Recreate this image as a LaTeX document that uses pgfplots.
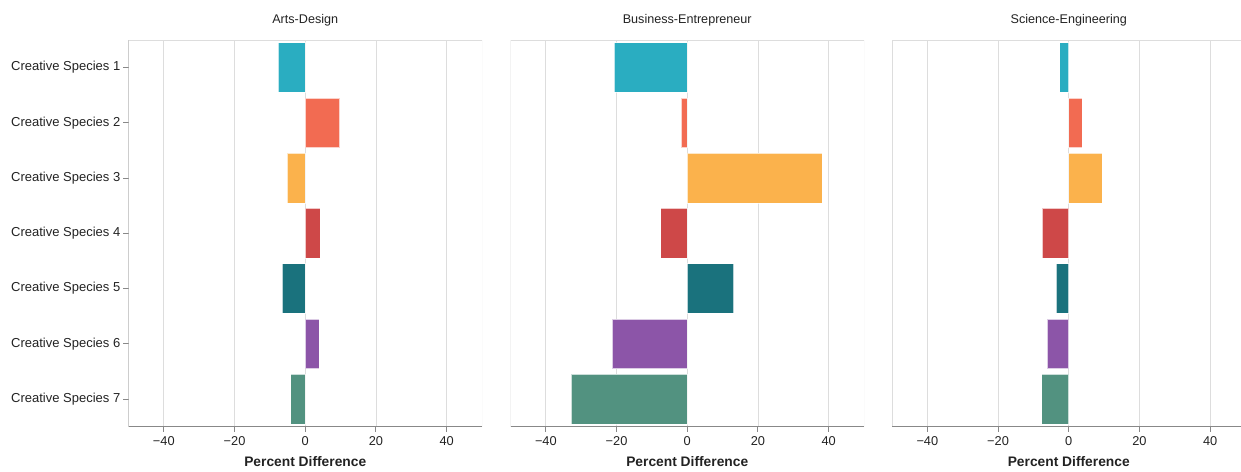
\documentclass[border=0pt]{standalone}
\usepackage{pgfplots}
\pgfplotsset{compat=1.18}
\usepackage{fontspec}
\setmainfont{Liberation Sans}
\definecolor{c1}{HTML}{2AADC1}
\definecolor{c2}{HTML}{F26B52}
\definecolor{c3}{HTML}{FBB24C}
\definecolor{c4}{HTML}{CE4848}
\definecolor{c5}{HTML}{1A727D}
\definecolor{c6}{HTML}{8C55A8}
\definecolor{c7}{HTML}{529280}
\definecolor{gridc}{HTML}{DDDDDD}
\definecolor{axc}{HTML}{888888}
\definecolor{txt}{HTML}{222222}
\pgfplotsset{
 panel/.style={
  scale only axis, width=353.5bp, height=386.7bp, anchor=south west,
  xmin=-50, xmax=50, ymin=0.5, ymax=7.5, y dir=reverse,
  xtick={-40,-20,0,20,40}, xticklabels={−40,−20,0,20,40},
  ytick={1,2,3,4,5,6,7},
  axis line style={draw=none},
  xmajorgrids, grid style={draw=gridc, line width=0.9bp},
  tick align=outside, major tick length=5bp, tick style={draw=axc, line width=1bp},
  xtick pos=bottom, ytick pos=left,
  tick label style={font=\fontsize{12.8bp}{14bp}\selectfont, text=txt},
  xticklabel style={anchor=north, inner sep=0pt, yshift=-4.5bp},
  yticklabel style={anchor=east, inner sep=0pt, xshift=-3bp, font=\fontsize{13bp}{14bp}\selectfont},
  title style={at={(0.5,1)}, anchor=base, yshift=10.6bp, font=\fontsize{12.6bp}{14bp}\selectfont, text=txt},
  xlabel={Percent Difference},
  xlabel style={at={(axis description cs:0.5,0)}, anchor=center, yshift=-34.5bp, font=\fontsize{13.8bp}{15bp}\selectfont\bfseries, text=txt},
  xbar, bar shift=0pt, bar width=0.9,
  every axis plot/.append style={draw=white, draw opacity=0.7, line width=0.8bp},
 },
}
\begin{document}
\begin{tikzpicture}
% Panel 1
\begin{axis}[panel, at={(128.5bp,45.3bp)}, title={Arts-Design},
  yticklabels={Creative Species 1,Creative Species 2,Creative Species 3,Creative Species 4,Creative Species 5,Creative Species 6,Creative Species 7}]
\addplot[fill=c1] coordinates {(-7.6,1)};
\addplot[fill=c2] coordinates {(9.7,2)};
\addplot[fill=c3] coordinates {(-5.1,3)};
\addplot[fill=c4] coordinates {(4.2,4)};
\addplot[fill=c5] coordinates {(-6.5,5)};
\addplot[fill=c6] coordinates {(3.9,6)};
\addplot[fill=c7] coordinates {(-4.1,7)};
\draw[gridc, line width=0.9bp] (axis description cs:0,0) rectangle (axis description cs:1,1);
\draw[axc, line width=1.2bp] (axis description cs:0,1) -- (axis description cs:0,0) -- (axis description cs:1,0);
\end{axis}
% Panel 2
\begin{axis}[panel, at={(510.5bp,45.3bp)}, title={Business-Entrepreneur}, ytick=\empty]
\addplot[fill=c1] coordinates {(-20.6,1)};
\addplot[fill=c2] coordinates {(-1.7,2)};
\addplot[fill=c3] coordinates {(38.2,3)};
\addplot[fill=c4] coordinates {(-7.5,4)};
\addplot[fill=c5] coordinates {(13.1,5)};
\addplot[fill=c6] coordinates {(-21.3,6)};
\addplot[fill=c7] coordinates {(-32.8,7)};
\draw[gridc, line width=0.9bp] (axis description cs:0,0) rectangle (axis description cs:1,1);
\draw[axc, line width=1.2bp] (axis description cs:0,0) -- (axis description cs:1,0);
\end{axis}
% Panel 3
\begin{axis}[panel, at={(892bp,45.3bp)}, title={Science-Engineering}, ytick=\empty]
\addplot[fill=c1] coordinates {(-2.6,1)};
\addplot[fill=c2] coordinates {(3.8,2)};
\addplot[fill=c3] coordinates {(9.5,3)};
\addplot[fill=c4] coordinates {(-7.5,4)};
\addplot[fill=c5] coordinates {(-3.5,5)};
\addplot[fill=c6] coordinates {(-6.1,6)};
\addplot[fill=c7] coordinates {(-7.7,7)};
\draw[gridc, line width=0.9bp] (axis description cs:0,0) rectangle (axis description cs:1,1);
\draw[axc, line width=1.2bp] (axis description cs:0,0) -- (axis description cs:1,0);
\end{axis}
\pgfresetboundingbox
\path[use as bounding box] (0,0) rectangle (1241bp,472bp);
\end{tikzpicture}
\end{document}
